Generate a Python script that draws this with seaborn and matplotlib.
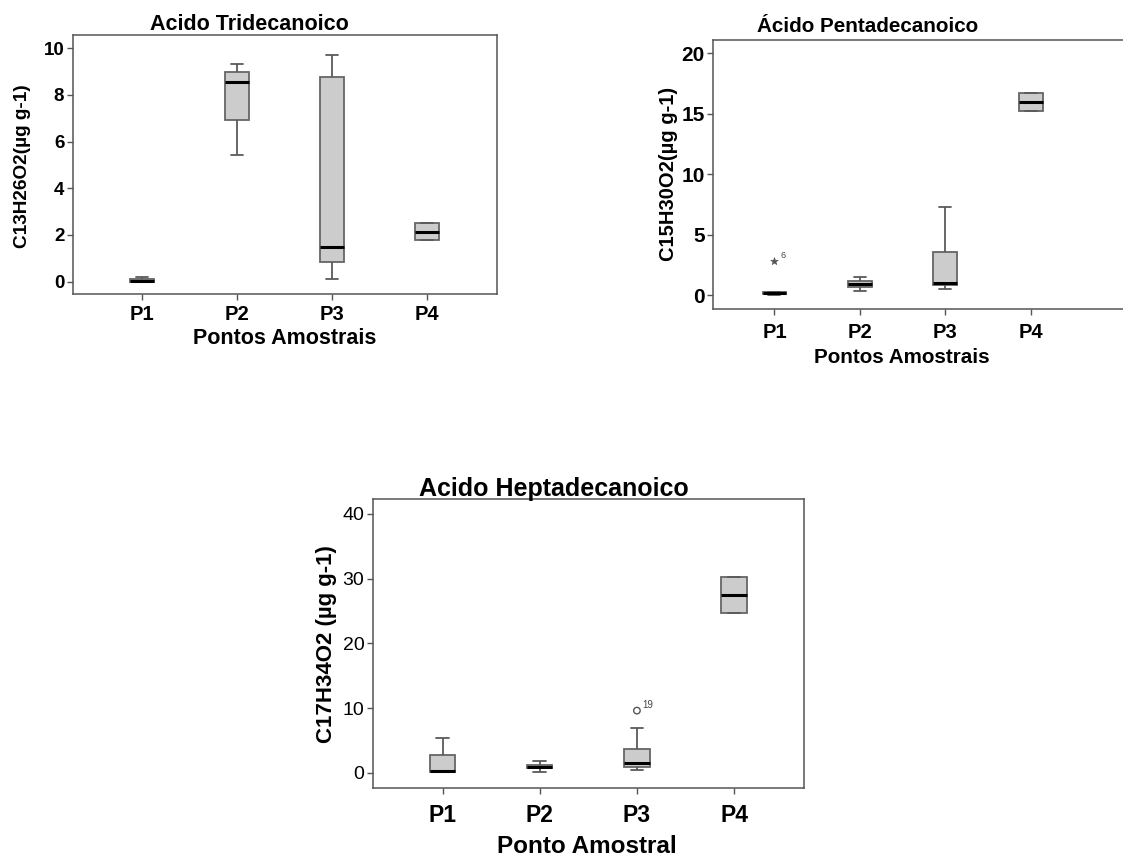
import numpy as np
import pandas as pd
import seaborn as sns
import matplotlib
matplotlib.use("Agg")
import matplotlib.pyplot as plt

sns.set_style("white")
plt.rcParams['font.family'] = ['Liberation Sans', 'DejaVu Sans']
plt.rcParams['text.color'] = 'black'
plt.rcParams['xtick.labelcolor'] = 'black'
plt.rcParams['ytick.labelcolor'] = 'black'

points = ["P1", "P2", "P3", "P4"]

# Five-number summaries: lower whisker, Q1, median, Q3, upper whisker
tri_low = [0.00, 5.43, 0.13, 1.77]
tri_q1 = [0.00, 6.94, 0.84, 1.77]
tri_med = [0.03, 8.55, 1.49, 2.14]
tri_q3 = [0.10, 8.97, 8.79, 2.52]
tri_high = [0.20, 9.32, 9.73, 2.52]

penta_low = [0.00, 0.36, 0.55, 15.26]
penta_q1 = [0.08, 0.71, 0.85, 15.26]
penta_med = [0.20, 0.93, 0.99, 16.00]
penta_q3 = [0.27, 1.21, 3.60, 16.75]
penta_high = [0.27, 1.49, 7.30, 16.75]
penta_out_point = ["P1"]
penta_out_value = [2.83]
penta_out_label = ["6"]

hepta_low = [0.10, 0.05, 0.37, 24.70]
hepta_q1 = [0.10, 0.67, 0.84, 24.70]
hepta_med = [0.26, 0.93, 1.45, 27.48]
hepta_q3 = [2.74, 1.14, 3.61, 30.30]
hepta_high = [5.31, 1.86, 6.86, 30.30]
hepta_out_point = ["P3"]
hepta_out_value = [9.60]
hepta_out_label = ["19"]

W, H = 1123, 857
fig = plt.figure(figsize=(W / 100, H / 100), dpi=100)


def px_axes(left, top, right, bottom):
    return fig.add_axes([left / W, 1 - bottom / H, (right - left) / W, (bottom - top) / H])


def make_df(low, q1, med, q3, high):
    rows = []
    for i, p in enumerate(points):
        for v in (low[i], q1[i], med[i], q3[i], high[i]):
            rows.append((p, v))
    return pd.DataFrame(rows, columns=["ponto", "valor"])


def draw_box(ax, df, width):
    sns.boxplot(data=df, x="ponto", y="valor", order=points, ax=ax, whis=(0, 100),
                width=width, color="#cccccc", linecolor="#5a5a5a", linewidth=1.3,
                showfliers=False,
                medianprops=dict(color="black", linewidth=2.2),
                boxprops=dict(facecolor="#cccccc", edgecolor="#666666"))
    ax.set_xlabel("")
    ax.set_ylabel("")
    for s in ax.spines.values():
        s.set_color("#555555")
        s.set_linewidth(1.1)
    ax.tick_params(axis="both", which="both", direction="out", length=4, width=1,
                   color="#555555", labelcolor="black", left=True, bottom=True, pad=2)


# ---- Chart 1 ----
ax1 = px_axes(72.7, 35, 496.7, 294)
draw_box(ax1, make_df(tri_low, tri_q1, tri_med, tri_q3, tri_high), 0.25)
ax1.set_xlim(-0.73, 3.73)
ax1.set_ylim(-0.53, 10.57)
ax1.set_yticks([0, 2, 4, 6, 8, 10])
for t in ax1.get_yticklabels():
    t.set_fontsize(13.5); t.set_fontweight("bold")
for t in ax1.get_xticklabels():
    t.set_fontsize(14.5); t.set_fontweight("bold")
ax1.tick_params(axis="x", pad=4)
fig.text(249.7 / W, 1 - 30.5 / H, "Acido Tridecanoico", ha="center", va="baseline",
         fontsize=15.5, fontweight="bold")
fig.text(285 / W, 1 - 344 / H, "Pontos Amostrais", ha="center", va="baseline",
         fontsize=15.5, fontweight="bold")
fig.text(23 / W, 1 - 166.5 / H, "C13H26O2(µg g-1)", ha="center", va="center",
         rotation=90, fontsize=13.7, fontweight="bold")

# ---- Chart 2 ----
ax2 = px_axes(713, 40, 1133, 309)
draw_box(ax2, make_df(penta_low, penta_q1, penta_med, penta_q3, penta_high), 0.28)
ax2.set_xlim(-0.72, 4.2)
ax2.set_ylim(-1.13, 21.1)
ax2.set_yticks([0, 5, 10, 15, 20])
for t in ax2.get_yticklabels():
    t.set_fontsize(15); t.set_fontweight("bold")
for t in ax2.get_xticklabels():
    t.set_fontsize(14.5); t.set_fontweight("bold")
ax2.tick_params(axis="x", pad=6)
sns.scatterplot(x=penta_out_point, y=penta_out_value, ax=ax2, marker="*", s=30,
                color="#555555", edgecolor="#555555", linewidth=0.5, legend=False)
for p, v, lab in zip(penta_out_point, penta_out_value, penta_out_label):
    ax2.annotate(lab, (points.index(p), v), xytext=(4, 2), textcoords="offset points",
                 fontsize=6.5, color="#444444")
fig.text(867.7 / W, 1 - 32 / H, "Ácido Pentadecanoico", ha="center", va="baseline",
         fontsize=14.9, fontweight="bold")
fig.text(902 / W, 1 - 363 / H, "Pontos Amostrais", ha="center", va="baseline",
         fontsize=14.9, fontweight="bold")
fig.text(668 / W, 1 - 174 / H, "C15H30O2(µg g-1)", ha="center", va="center",
         rotation=90, fontsize=14.5, fontweight="bold")

# ---- Chart 3 ----
ax3 = px_axes(372.7, 499.3, 804, 787.7)
draw_box(ax3, make_df(hepta_low, hepta_q1, hepta_med, hepta_q3, hepta_high), 0.26)
ax3.set_xlim(-0.72, 3.72)
ax3.set_ylim(-2.32, 42.27)
ax3.set_yticks([0, 10, 20, 30, 40])
for t in ax3.get_yticklabels():
    t.set_fontsize(14)
for t in ax3.get_xticklabels():
    t.set_fontsize(16.5); t.set_fontweight("bold")
ax3.tick_params(axis="x", pad=8)
sns.scatterplot(x=hepta_out_point, y=hepta_out_value, ax=ax3, marker="o", s=22,
                facecolor="none", edgecolor="#555555", linewidth=1, legend=False)
for p, v, lab in zip(hepta_out_point, hepta_out_value, hepta_out_label):
    ax3.annotate(lab, (points.index(p), v), xytext=(4, 2), textcoords="offset points",
                 fontsize=7, color="#444444")
fig.text(554 / W, 1 - 496 / H, "Acido Heptadecanoico", ha="center", va="baseline",
         fontsize=18, fontweight="bold")
fig.text(587 / W, 1 - 853 / H, "Ponto Amostral", ha="center", va="baseline",
         fontsize=17.5, fontweight="bold")
fig.text(326 / W, 1 - 644 / H, "C17H34O2 (µg g-1)", ha="center", va="center",
         rotation=90, fontsize=16, fontweight="bold")

fig.savefig("out.png", dpi=100)
